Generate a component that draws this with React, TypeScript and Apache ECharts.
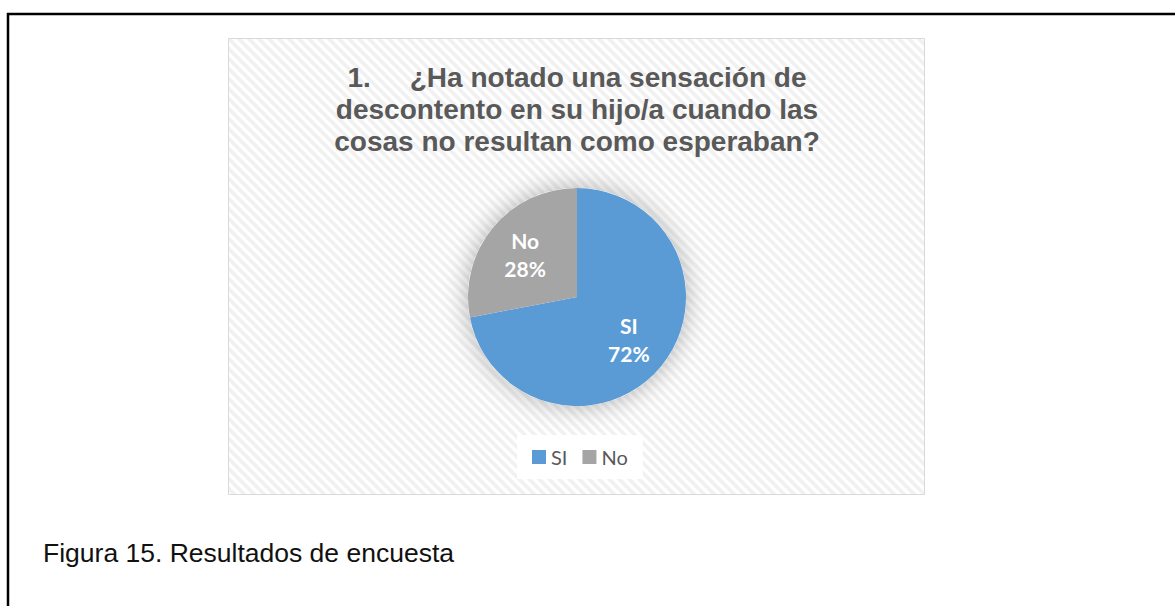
import React, { useEffect, useRef } from 'react';
import * as echarts from 'echarts';

const categories = ['SI', 'No'];
const values = [72, 28];
const sliceColors = ['#5B9BD5', '#A5A5A5'];
const titleLines = [
  '1.     ¿Ha notado una sensación de',
  'descontento en su hijo/a cuando las',
  'cosas no resultan como esperaban?',
];
const caption = 'Figura 15. Resultados de encuesta';

const stripeSvg =
  "<svg xmlns='http://www.w3.org/2000/svg' width='10' height='10'>" +
  "<rect width='10' height='10' fill='#ffffff'/>" +
  "<path d='M-5,5 L5,15 M0,0 L10,10 M5,-5 L15,5' stroke='#f1f1f1' stroke-width='3.6'/>" +
  '</svg>';
const stripeUrl = 'data:image/svg+xml;utf8,' + encodeURIComponent(stripeSvg);

const PIE_CX = 577;
const PIE_CY = 297;
const PIE_R = 109;

export default function App() {
  const ref = useRef<HTMLDivElement>(null);

  useEffect(() => {
    if (!ref.current) return;
    document.body.style.margin = '0';
    const chart = echarts.init(ref.current, undefined, { renderer: 'svg' });
    const total = values.reduce((a, b) => a + b, 0);

    chart.setOption({
      animation: false,
      backgroundColor: '#ffffff',
      legend: {
        data: categories,
        left: 517,
        top: 435,
        orient: 'horizontal',
        icon: 'rect',
        itemWidth: 14,
        itemHeight: 14,
        itemGap: 15,
        padding: [12, 15],
        backgroundColor: '#ffffff',
        textStyle: { fontFamily: 'Lato', fontSize: 20, color: '#595959' },
      },
      graphic: [
        {
          type: 'rect',
          z: 0,
          silent: true,
          shape: { x: 228.5, y: 38.5, width: 696, height: 456 },
          style: {
            fill: { image: stripeUrl, repeat: 'repeat', imageWidth: 10, imageHeight: 10 },
            stroke: '#d9d9d9',
            lineWidth: 1,
          },
        },
        {
          type: 'line',
          silent: true,
          shape: { x1: 7, y1: 14, x2: 1175, y2: 14 },
          style: { stroke: '#000000', lineWidth: 2.5 },
        },
        {
          type: 'line',
          silent: true,
          shape: { x1: 8, y1: 13, x2: 8, y2: 606 },
          style: { stroke: '#000000', lineWidth: 2.5 },
        },
        {
          type: 'text',
          silent: true,
          z: 5,
          x: 577,
          y: 61,
          style: {
            text: titleLines.join('\n'),
            textAlign: 'center',
            textVerticalAlign: 'top',
            fontFamily: 'Liberation Sans, Arial',
            fontWeight: 'bold',
            fontSize: 28,
            lineHeight: 32,
            fill: '#595959',
          },
        },
        {
          type: 'text',
          silent: true,
          x: 43,
          y: 553,
          style: {
            text: caption,
            textAlign: 'left',
            textVerticalAlign: 'middle',
            fontFamily: 'Liberation Sans, Arial',
            fontSize: 26.5,
            fill: '#111111',
          },
        },
      ],
      series: [
        {
          type: 'pie',
          silent: true,
          z: 1,
          center: [PIE_CX, PIE_CY],
          radius: PIE_R,
          label: { show: false },
          labelLine: { show: false },
          data: [
            {
              value: 1,
              name: 'shadow',
              itemStyle: {
                color: '#ffffff',
                shadowBlur: 26,
                shadowColor: 'rgba(0,0,0,0.3)',
              },
            },
          ],
        },
        {
          type: 'pie',
          z: 2,
          center: [PIE_CX, PIE_CY],
          radius: PIE_R,
          startAngle: 90,
          clockwise: true,
          percentPrecision: 0,
          itemStyle: { borderWidth: 0 },
          label: {
            show: true,
            position: 'inside',
            formatter: '{b}\n{d}%',
            color: '#ffffff',
            fontFamily: 'Lato',
            fontWeight: 'bold',
            fontSize: 21,
            lineHeight: 28,
          },
          labelLayout: (params: any) => {
            const i = params.dataIndex;
            let before = 0;
            for (let k = 0; k < i; k++) before += values[k];
            const mid = ((before + values[i] / 2) / total) * Math.PI * 2;
            const extra = PIE_R * 0.09;
            return { dx: Math.sin(mid) * extra, dy: -Math.cos(mid) * extra };
          },
          data: categories.map((name, i) => ({
            name,
            value: values[i],
            itemStyle: { color: sliceColors[i] },
          })),
        },
      ],
    });

    return () => chart.dispose();
  }, []);

  return (
    <div
      ref={ref}
      style={{ position: 'fixed', left: 0, top: 0, width: 1175, height: 606 }}
    />
  );
}
